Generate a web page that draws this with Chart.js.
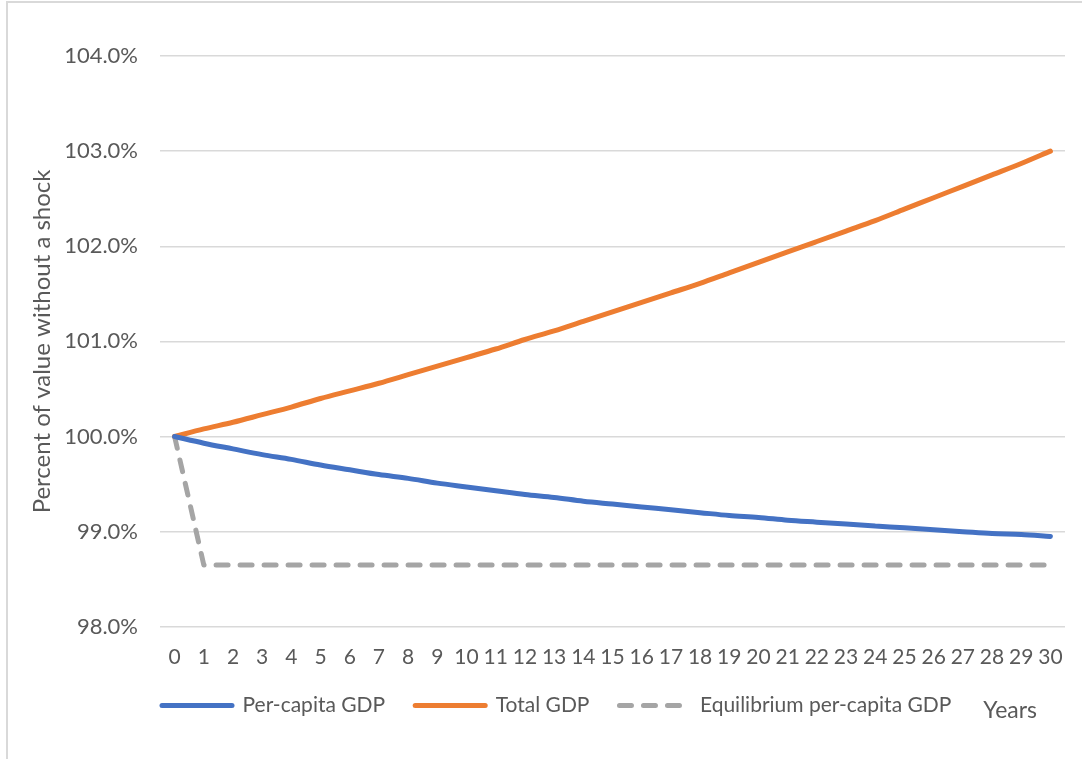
<!DOCTYPE html>
<html>
<head>
<meta charset="utf-8">
<script src="https://cdn.jsdelivr.net/npm/chart.js@4"></script>
<style>
  html, body { margin: 0; padding: 0; background: #ffffff; }
  #wrap { position: relative; width: 1082px; height: 759px; }
  #frame { position: absolute; left: 6px; top: 1px; right: 0; bottom: 0;
           border-left: 2px solid #d9d9d9; border-top: 2px solid #d9d9d9; pointer-events: none; }
  canvas { display: block; }
</style>
</head>
<body>
<div id="wrap">
  <canvas id="chart" width="1082" height="759"></canvas>
  <div id="frame"></div>
</div>
<script>
// Years after the shock
const years = ['0','1','2','3','4','5','6','7','8','9','10','11','12','13','14','15',
               '16','17','18','19','20','21','22','23','24','25','26','27','28','29','30'];

// Percent of value without a shock
const perCapitaGdp = [100.00, 99.93, 99.87, 99.81, 99.76, 99.70, 99.65, 99.60, 99.56, 99.51,
                      99.47, 99.43, 99.39, 99.36, 99.32, 99.29, 99.26, 99.23, 99.20, 99.17,
                      99.15, 99.12, 99.10, 99.08, 99.06, 99.04, 99.02, 99.00, 98.98, 98.97, 98.95];

const totalGdp = [100.00, 100.08, 100.15, 100.23, 100.31, 100.40, 100.48, 100.56, 100.65, 100.74,
                  100.83, 100.92, 101.02, 101.11, 101.21, 101.31, 101.41, 101.51, 101.61, 101.72,
                  101.83, 101.94, 102.05, 102.16, 102.27, 102.39, 102.51, 102.63, 102.75, 102.87, 103.00];

const equilibriumPerCapitaGdp = [100.00, 98.65, 98.65, 98.65, 98.65, 98.65, 98.65, 98.65, 98.65, 98.65,
                                 98.65, 98.65, 98.65, 98.65, 98.65, 98.65, 98.65, 98.65, 98.65, 98.65,
                                 98.65, 98.65, 98.65, 98.65, 98.65, 98.65, 98.65, 98.65, 98.65, 98.65, 98.65];

const seriesNames = ['Per-capita GDP', 'Total GDP', 'Equilibrium per-capita GDP'];
const yTicks = [98, 99, 100, 101, 102, 103, 104];
const xAxisTitle = 'Years';
const yAxisTitle = 'Percent of value without a shock';

const FONT = 'Lato, "Open Sans", sans-serif';
const TEXT = '#595959';
const GRID = '#d9d9d9';

// Pulls the legend row flush with the plot's left edge, nudges it up,
// and writes the axis name after the last entry
const legendRow = {
  id: 'legendRow',
  afterLayout(chart) {
    const lg = chart.legend;
    const pad = chart.options.plugins.legend.labels.padding;
    const dx = chart.chartArea.left + 2 - pad - lg.left;
    const dy = -23;
    lg.left += dx; lg.right += dx;
    lg.top += dy; lg.bottom += dy;
  },
  afterDraw(chart) {
    const boxes = chart.legend.legendHitBoxes;
    if (!boxes || !boxes.length) return;
    const last = boxes[boxes.length - 1];
    const ctx = chart.ctx;
    ctx.save();
    ctx.font = '23px ' + FONT;
    ctx.fillStyle = TEXT;
    ctx.textBaseline = 'middle';
    ctx.textAlign = 'left';
    ctx.fillText(xAxisTitle, last.left + last.width + 32, last.top + last.height / 2 + 5);
    ctx.restore();
  }
};

// Legend samples drawn as short strokes in each series' own line style
function lineLegendItems(chart) {
  return chart.data.datasets.map((ds, i) => ({
    text: ds.label,
    datasetIndex: i,
    fillStyle: ds.borderColor,
    strokeStyle: ds.borderColor,
    fontColor: TEXT,
    lineWidth: ds.borderWidth,
    lineDash: ds.borderDash || [],
    lineDashOffset: 0,
    lineCap: 'round',
    pointStyle: 'line',
    hidden: !chart.isDatasetVisible(i)
  }));
}

new Chart(document.getElementById('chart'), {
  type: 'line',
  data: {
    labels: years,
    datasets: [
      { label: seriesNames[0], data: perCapitaGdp, borderColor: '#4472C4', backgroundColor: '#4472C4',
        borderWidth: 5, pointRadius: 0, borderCapStyle: 'round',
        cubicInterpolationMode: 'monotone' },
      { label: seriesNames[1], data: totalGdp, borderColor: '#ED7D31', backgroundColor: '#ED7D31',
        borderWidth: 5, pointRadius: 0, borderCapStyle: 'round',
        cubicInterpolationMode: 'monotone' },
      { label: seriesNames[2], data: equilibriumPerCapitaGdp, borderColor: '#A5A5A5', backgroundColor: '#A5A5A5',
        borderWidth: 5, borderDash: [12, 12], pointRadius: 0, borderCapStyle: 'round',
        borderJoinStyle: 'round', tension: 0 }
    ]
  },
  options: {
    responsive: false,
    animation: false,
    layout: { padding: { top: 56, right: 17, bottom: 10, left: 28 } },
    plugins: {
      tooltip: { enabled: false },
      legend: {
        position: 'bottom',
        align: 'start',
        fullSize: false,
        labels: {
          usePointStyle: true,
          pointStyleWidth: 70,
          boxHeight: 21,
          padding: 30,
          color: TEXT,
          font: { family: FONT, size: 21 },
          generateLabels: lineLegendItems
        }
      }
    },
    scales: {
      x: {
        type: 'category',
        offset: true,
        grid: { display: false, drawTicks: false },
        border: { display: false },
        ticks: {
          autoSkip: false, maxRotation: 0, minRotation: 0,
          padding: 18, color: TEXT, font: { family: FONT, size: 21 }
        }
      },
      y: {
        min: 98,
        max: 104,
        afterBuildTicks(scale) { scale.ticks = yTicks.map(v => ({ value: v })); },
        afterFit(scale) { scale.width = 132; },
        grid: { color: GRID, lineWidth: 1.5, drawTicks: false },
        border: { display: false },
        title: {
          display: true, text: yAxisTitle, color: TEXT,
          font: { family: FONT, size: 24 }, padding: { top: 0, bottom: 0 }
        },
        ticks: {
          padding: 22, color: TEXT, font: { family: FONT, size: 22 },
          callback: v => v.toFixed(1) + '%'
        }
      }
    }
  },
  plugins: [legendRow]
});
</script>
</body>
</html>
